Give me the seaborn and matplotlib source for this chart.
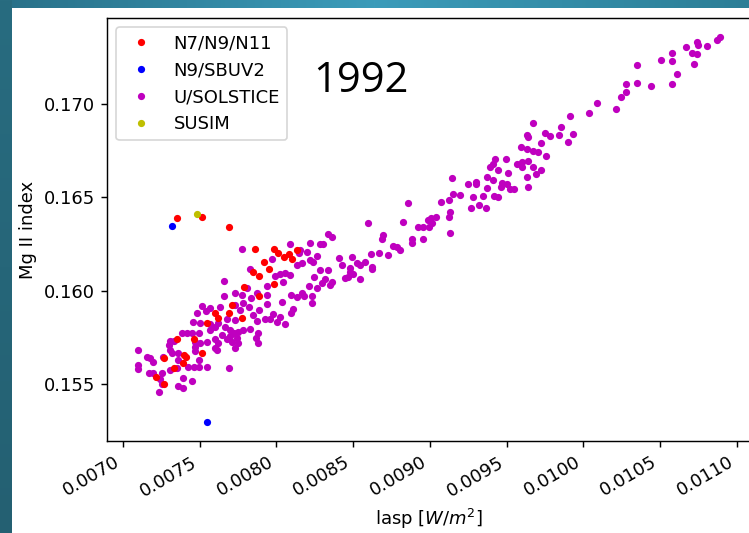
import numpy as np
import pandas as pd
import matplotlib
matplotlib.use("Agg")
import matplotlib.pyplot as plt
from matplotlib.lines import Line2D
import seaborn as sns

# ---- data: lasp irradiance [W/m^2] vs Mg II index, 1992 ----
sol_lasp = [
    0.010889, 0.010870, 0.010740, 0.010746, 0.010668, 0.010805, 0.010707, 0.010740, 0.010577, 0.010505,
    0.010577, 0.010720, 0.010349, 0.010609, 0.010349, 0.010277, 0.010440, 0.010577, 0.010277, 0.010244,
    0.010088, 0.010036, 0.010212, 0.009912, 0.009854, 0.009671, 0.009932, 0.009841, 0.009782, 0.009749,
    0.009899, 0.009723, 0.009639, 0.009632, 0.009593, 0.009632, 0.009671, 0.009704, 0.009756, 0.009495,
    0.009424, 0.009411, 0.009391, 0.009599, 0.009639, 0.009567, 0.009599, 0.009671, 0.009723, 0.009443,
    0.009508, 0.009632, 0.009691, 0.009371, 0.009411, 0.009469, 0.009463, 0.009502, 0.009521, 0.009547,
    0.009639, 0.009143, 0.009300, 0.009300, 0.009248, 0.009371, 0.009345, 0.009417, 0.009443, 0.009280,
    0.009150, 0.009196, 0.009124, 0.009072, 0.008857, 0.009267, 0.009319, 0.009365, 0.009130, 0.009124,
    0.009039, 0.009007, 0.008987, 0.009013, 0.008994, 0.008955, 0.008922, 0.008824, 0.008596, 0.009130,
    0.008694, 0.008687, 0.008955, 0.008883,
    0.008218, 0.008283, 0.008303, 0.008759, 0.008785, 0.008805, 0.008883, 0.008153, 0.008199, 0.008264,
    0.008218, 0.008166, 0.008238, 0.008407, 0.008492, 0.008427, 0.008524, 0.008544, 0.008577, 0.008616,
    0.008668, 0.008726, 0.008622, 0.008622, 0.008479, 0.008479, 0.008498, 0.008446, 0.008466, 0.008544,
    0.008283, 0.008336, 0.008244, 0.008316, 0.008296, 0.008264, 0.008362, 0.008349, 0.008212, 0.008166,
    0.008179, 0.008231, 0.008231,
    0.008336, 0.008362, 0.008088, 0.007775, 0.008147, 0.008134, 0.007971, 0.007827, 0.008023, 0.008055,
    0.008088, 0.007990,
    0.007658, 0.007938, 0.008042, 0.007808, 0.007873, 0.007730, 0.007775, 0.007658, 0.007834, 0.007938,
    0.008094, 0.008134, 0.008036, 0.007938, 0.007782, 0.007730, 0.007515, 0.007632, 0.007821, 0.007762,
    0.007482, 0.007567, 0.007541, 0.007886, 0.007847, 0.007977, 0.008023, 0.007925, 0.007873, 0.007958,
    0.008003, 0.008055, 0.008094, 0.008108, 0.007456, 0.007502, 0.007567, 0.007619, 0.007678, 0.007730,
    0.007599, 0.007567, 0.007665, 0.007697, 0.007645, 0.007723, 0.007749, 0.007782, 0.007827, 0.007880,
    0.007866, 0.007880, 0.007743, 0.007710, 0.007749, 0.007730, 0.007697, 0.007678, 0.007599, 0.007619,
    0.007599, 0.007612, 0.007547, 0.007502, 0.007495, 0.007384, 0.007417, 0.007450, 0.007469, 0.007469,
    0.007469, 0.007495, 0.007547, 0.007495, 0.007463, 0.007423, 0.007358, 0.007306, 0.007332, 0.007300,
    0.007306, 0.007319, 0.007358, 0.007261, 0.007176, 0.007156, 0.007195, 0.007098, 0.007098, 0.007098,
    0.007169, 0.007195, 0.007254, 0.007306, 0.007352, 0.007241, 0.007254, 0.007235, 0.007358, 0.007391,
    0.007391, 0.007450, 0.007691,
]
sol_mgii = [
    0.17359, 0.17343, 0.17332, 0.17316, 0.17305, 0.17311, 0.17273, 0.17268, 0.17273, 0.17236,
    0.17230, 0.17214, 0.17209, 0.17161, 0.17112, 0.17107, 0.17096, 0.17107, 0.17064, 0.17037,
    0.17005, 0.16952, 0.16973, 0.16936, 0.16877, 0.16898, 0.16839, 0.16834, 0.16829, 0.16845,
    0.16796, 0.16791, 0.16823, 0.16834, 0.16770, 0.16759, 0.16748, 0.16743, 0.16721, 0.16705,
    0.16705, 0.16679, 0.16663, 0.16689, 0.16695, 0.16679, 0.16663, 0.16663, 0.16647, 0.16647,
    0.16630, 0.16609, 0.16625, 0.16609, 0.16593, 0.16577, 0.16555, 0.16572, 0.16545, 0.16545,
    0.16555, 0.16604, 0.16582, 0.16572, 0.16572, 0.16550, 0.16507, 0.16507, 0.16502, 0.16502,
    0.16518, 0.16513, 0.16486, 0.16475, 0.16470, 0.16443, 0.16459, 0.16443, 0.16422, 0.16395,
    0.16395, 0.16389, 0.16379, 0.16363, 0.16341, 0.16341, 0.16341, 0.16368, 0.16363, 0.16309,
    0.16298, 0.16277, 0.16277, 0.16277,
    0.16255, 0.16250, 0.16250, 0.16239, 0.16234, 0.16218, 0.16255, 0.16218, 0.16207, 0.16186,
    0.16164, 0.16148, 0.16154, 0.16175, 0.16181, 0.16138, 0.16148, 0.16138, 0.16154, 0.16197,
    0.16202, 0.16191, 0.16127, 0.16116, 0.16122, 0.16100, 0.16089, 0.16068, 0.16073, 0.16063,
    0.16111, 0.16111, 0.16073, 0.16063, 0.16041, 0.16014, 0.16047, 0.16031, 0.16025, 0.15988,
    0.15972, 0.15972, 0.15934,
    0.16304, 0.16288, 0.16250, 0.16223, 0.16202, 0.16138, 0.16170, 0.16116, 0.16089, 0.16095,
    0.16084, 0.16079,
    0.16052, 0.16025, 0.16047, 0.16014, 0.15988, 0.15988, 0.15977, 0.15972, 0.15961, 0.15977,
    0.15977, 0.15966, 0.15940, 0.15929, 0.15934, 0.15923, 0.15918, 0.15913, 0.15913, 0.15897,
    0.15881, 0.15907, 0.15891, 0.15897, 0.15870, 0.15875, 0.15859, 0.15848, 0.15838, 0.15848,
    0.15832, 0.15822, 0.15881, 0.15902, 0.15832, 0.15827, 0.15822, 0.15827, 0.15848, 0.15843,
    0.15806, 0.15790, 0.15806, 0.15790, 0.15763, 0.15773, 0.15779, 0.15790, 0.15795, 0.15773,
    0.15747, 0.15720, 0.15747, 0.15725, 0.15720, 0.15693, 0.15757, 0.15741, 0.15741, 0.15720,
    0.15693, 0.15682, 0.15725, 0.15720, 0.15773, 0.15773, 0.15773, 0.15773, 0.15725, 0.15698,
    0.15677, 0.15629, 0.15591, 0.15591, 0.15591, 0.15591, 0.15629, 0.15731, 0.15731, 0.15709,
    0.15682, 0.15666, 0.15666, 0.15645, 0.15640, 0.15645, 0.15618, 0.15682, 0.15602, 0.15581,
    0.15559, 0.15559, 0.15559, 0.15575, 0.15586, 0.15527, 0.15500, 0.15457, 0.15490, 0.15479,
    0.15532, 0.15516, 0.15586,
]

noaa_lasp = [
    0.007352, 0.007515, 0.007691, 0.007860, 0.007984, 0.008010, 0.008049, 0.008081, 0.008134, 0.008101,
    0.007919, 0.007951, 0.007886, 0.007847, 0.007788, 0.007984, 0.007886, 0.007710, 0.007775, 0.007619,
    0.007599, 0.007691, 0.007547, 0.007463, 0.007352, 0.007515, 0.007397, 0.007410, 0.007391, 0.007267,
    0.007332, 0.007215, 0.007267,
]
noaa_mgii = [
    0.16389, 0.16395, 0.16341, 0.16223, 0.16223, 0.16202, 0.16181, 0.16197, 0.16218, 0.16170,
    0.16154, 0.16116, 0.16079, 0.16100, 0.16020, 0.16036, 0.15972, 0.15923, 0.15854, 0.15854,
    0.15881, 0.15881, 0.15827, 0.15741, 0.15741, 0.15666, 0.15656, 0.15645, 0.15613, 0.15640,
    0.15586, 0.15538, 0.15500,
]

sbuv_lasp = [0.007319, 0.007547]
sbuv_mgii = [0.16347, 0.15297]

susim_lasp = [0.007482]
susim_mgii = [0.16411]

labels = ["N7/N9/N11", "N9/SBUV2", "U/SOLSTICE", "SUSIM"]
colors = ["r", "b", "m", "y"]

x_ticks = [0.0070, 0.0075, 0.0080, 0.0085, 0.0090, 0.0095, 0.0100, 0.0105, 0.0110]
y_ticks = [0.155, 0.160, 0.165, 0.170]

frames = []
for lab, xs, ys in zip(labels,
                       [noaa_lasp, sbuv_lasp, sol_lasp, susim_lasp],
                       [noaa_mgii, sbuv_mgii, sol_mgii, susim_mgii]):
    frames.append(pd.DataFrame({"lasp": xs, "mgii": ys, "instrument": lab}))
df = pd.concat(frames, ignore_index=True)

# ---- figure ----
k = 1.08  # overall scale of text and marks
plt.rcParams.update({
    "font.size": 10 * k,
    "axes.linewidth": 0.8 * k,
    "xtick.major.width": 0.8 * k,
    "ytick.major.width": 0.8 * k,
    "xtick.major.size": 3.5 * k,
    "ytick.major.size": 3.5 * k,
})

W, H, DPI = 749, 533, 120
fig = plt.figure(figsize=(W / DPI, H / DPI), dpi=DPI)

# slide-style frame: teal strips along the top and left edges
bg = np.ones((H, W, 3))
xs_grad = np.linspace(0, 1, W)
top_rgb = np.stack([
    np.interp(xs_grad, [0, 0.5, 1], [40, 60, 44]),
    np.interp(xs_grad, [0, 0.5, 1], [112, 156, 126]),
    np.interp(xs_grad, [0, 0.5, 1], [136, 186, 150]),
], axis=1) / 255.0
bg[:8, :, :] = top_rgb[None, :, :]
ys_grad = np.linspace(0, 1, H)
left_rgb = np.stack([
    np.interp(ys_grad, [0, 1], [40, 36]),
    np.interp(ys_grad, [0, 1], [108, 96]),
    np.interp(ys_grad, [0, 1], [128, 114]),
], axis=1) / 255.0
bg[:, :12, :] = left_rgb[:, None, :]
ax_bg = fig.add_axes([0, 0, 1, 1], zorder=-10)
ax_bg.imshow(bg, extent=[0, W, H, 0], aspect="auto", interpolation="nearest")
ax_bg.set_axis_off()

ax = fig.add_axes([107 / W, 1 - 441 / H, 644 / W, 423 / H])

order_z = {"N7/N9/N11": 4, "N9/SBUV2": 3, "U/SOLSTICE": 2, "SUSIM": 5}
for lab, col in zip(labels, colors):
    sub = df[df["instrument"] == lab]
    sns.scatterplot(data=sub, x="lasp", y="mgii", color=col, marker=".",
                    s=36 * k * k, linewidth=1.0 * k, edgecolor=col, ax=ax,
                    zorder=order_z[lab], legend=False)

ax.set_xlim(0.006896, 0.011092)
ax.set_ylim(0.15195, 0.17461)
ax.set_xticks(x_ticks)
ax.set_xticklabels([f"{v:.4f}" for v in x_ticks], rotation=30, ha="right")
ax.set_yticks(y_ticks)
ax.set_yticklabels([f"{v:.3f}" for v in y_ticks])
ax.set_xlabel(r"lasp [$W/m^2$]")
ax.set_ylabel("Mg II index")

handles = [Line2D([], [], linestyle="none", marker=".", color=c,
                  markersize=6 * k, markeredgewidth=1.0 * k)
           for c in colors]
ax.legend(handles, labels, loc="upper left")

fig.text(313 / W, 1 - 92 / H, "1992", fontsize=25, family="Open Sans",
         ha="left", va="baseline", color="black")

fig.savefig("out.png", dpi=DPI)
